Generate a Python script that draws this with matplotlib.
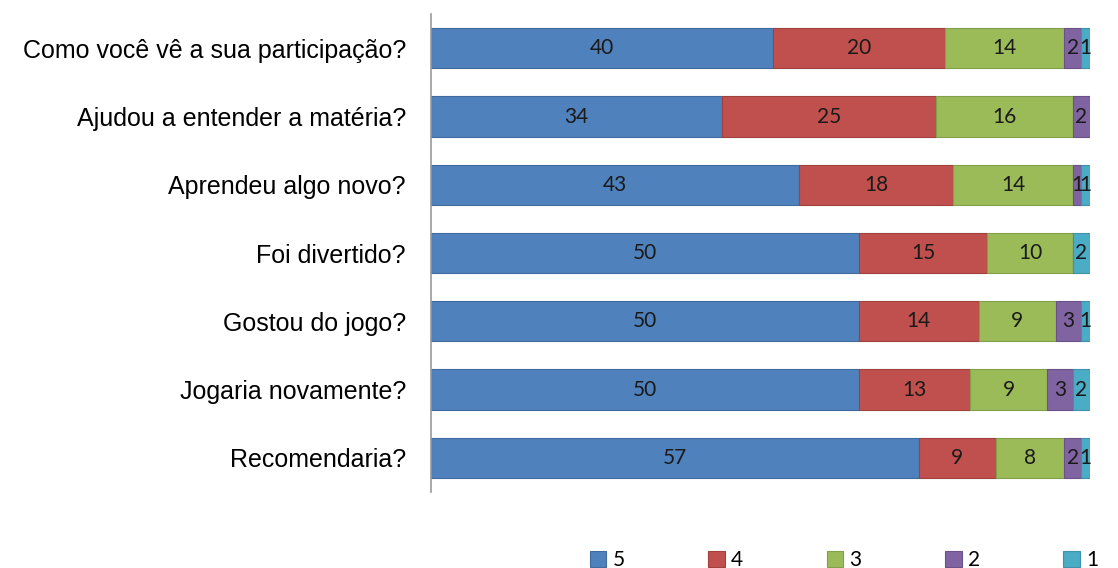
import numpy as np
import matplotlib.pyplot as plt

perguntas = ['Como você vê a sua participação?', 'Ajudou a entender a matéria?',
             'Aprendeu algo novo?', 'Foi divertido?', 'Gostou do jogo?',
             'Jogaria novamente?', 'Recomendaria?']
notas = ['5', '4', '3', '2', '1']
v5 = [40, 34, 43, 50, 50, 50, 57]
v4 = [20, 25, 18, 15, 14, 13, 9]
v3 = [14, 16, 14, 10, 9, 9, 8]
v2 = [2, 2, 1, 0, 3, 3, 2]
v1 = [1, 0, 1, 2, 1, 2, 1]

cores = ['#4F81BD', '#C0504D', '#9BBB59', '#8064A2', '#4BACC6']
bordas = ['#3F6C9F', '#A0413E', '#81A04A', '#6A5288', '#3D91A8']

fig = plt.figure(figsize=(11.18, 5.68), dpi=100)
ax = fig.add_axes([0.3855, 0.134, 0.5895, 0.841])

y = np.arange(len(perguntas))
left = np.zeros(len(perguntas))
series = [v5, v4, v3, v2, v1]
for vals, c, e, n in zip(series, cores, bordas, notas):
    vals = np.array(vals)
    bars = ax.barh(y, vals, left=left, height=0.59, color=c, edgecolor=e,
                   linewidth=0.8, label=n)
    for b, v in zip(bars, vals):
        if v > 0:
            ax.text(b.get_x() + b.get_width() / 2, b.get_y() + b.get_height() / 2,
                    str(v), ha='center', va='center', fontsize=15,
                    family=['Lato', 'DejaVu Sans'], color='#1a1a1a')
    left += vals

ax.set_ylim(len(perguntas) - 0.5, -0.5)
ax.set_xlim(0, 77)
ax.set_yticks(y)
ax.set_yticklabels(perguntas, fontsize=18,
                   family=['Liberation Sans Narrow', 'Liberation Sans'])
ax.tick_params(axis='y', length=0, pad=18)
ax.set_xticks([])
for s in ['top', 'right', 'bottom']:
    ax.spines[s].set_visible(False)
ax.spines['left'].set_color('#999999')
ax.spines['left'].set_linewidth(1.2)

leg = fig.legend(loc='center', bbox_to_anchor=(0.755, 0.014), ncol=5,
                 frameon=False, handlelength=0.8, handleheight=0.8,
                 handletextpad=0.3, columnspacing=4.0,
                 prop={'family': ['Lato', 'DejaVu Sans'], 'size': 15})

fig.savefig('out.png', dpi=100)
